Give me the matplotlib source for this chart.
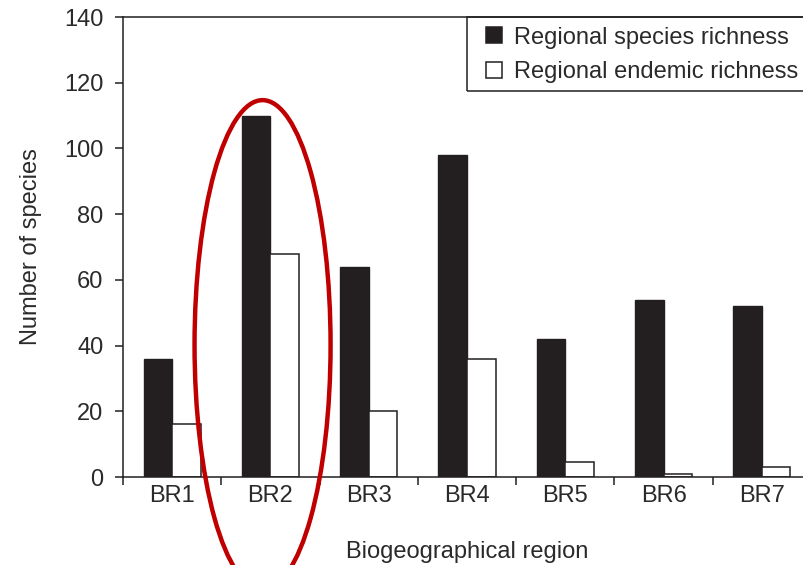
import numpy as np
import matplotlib.pyplot as plt
from matplotlib.patches import Ellipse, Rectangle

plt.rcParams['font.family'] = ['Liberation Sans', 'DejaVu Sans']

# Daten
regionen = ["BR1", "BR2", "BR3", "BR4", "BR5", "BR6", "BR7"]
artenreichtum = [36, 110, 64, 98, 42, 54, 52]
endemiten = [16, 68, 20, 36, 4.5, 1, 3]

x = np.arange(len(regionen)) + 0.5
w = 0.29
dunkel = "#231f20"
textfarbe = "#2a2a2a"
fs = 17

fig = plt.figure(figsize=(8.04, 5.65), dpi=100)
ax = fig.add_axes([123/804, 1-477/565, (811-123)/804, (477-17)/565])

ax.bar(x - w/2, artenreichtum, w, color=dunkel, edgecolor=dunkel, linewidth=1.0,
       label="Regional species richness")
ax.bar(x + w/2, endemiten, w, color="white", edgecolor=dunkel, linewidth=1.1,
       label="Regional endemic richness")

ax.set_xlim(0, len(regionen))
ax.set_ylim(0, 140)
ax.set_yticks(np.arange(0, 141, 20))
ax.set_xticks(np.arange(0, len(regionen) + 1))
ax.set_xticklabels([])
ax.set_xticks(x, minor=True)
ax.set_xticklabels(regionen, minor=True)
ax.tick_params(axis="both", which="major", direction="out", length=6, width=1.1,
               colors=dunkel, labelcolor=textfarbe, labelsize=fs)
ax.tick_params(axis="y", pad=8)
ax.tick_params(axis="x", which="minor", length=0, pad=6,
               labelcolor=textfarbe, labelsize=fs)
for s in ax.spines.values():
    s.set_linewidth(1.1)
    s.set_color(dunkel)

ax.set_ylabel("Number of species", fontsize=fs, color=textfarbe, labelpad=16)
ax.set_xlabel("Biogeographical region", fontsize=fs, color=textfarbe, labelpad=24)

# Legende ohne eigenen Rahmen, Kasten separat
leg = ax.legend(loc="upper left", bbox_to_anchor=(0.528, 0.979), borderaxespad=0,
                frameon=False, fontsize=fs, borderpad=0,
                handlelength=0.66, handleheight=0.66, handletextpad=0.5,
                labelspacing=0.52, labelcolor=textfarbe)
for h in leg.legend_handles:
    h.set_linewidth(1.1)
ax.add_patch(Rectangle((0.5, 0.839), 0.7, 0.161, transform=ax.transAxes,
                       fill=False, edgecolor=dunkel, linewidth=1.1,
                       clip_on=False, zorder=4))

# rote Markierung um BR2
ax.add_patch(Ellipse((1.42, 40.2), 1.384, 149, fill=False, edgecolor="#c00000",
                     linewidth=3.2, clip_on=False, zorder=5))

fig.savefig("out.png", dpi=100)
